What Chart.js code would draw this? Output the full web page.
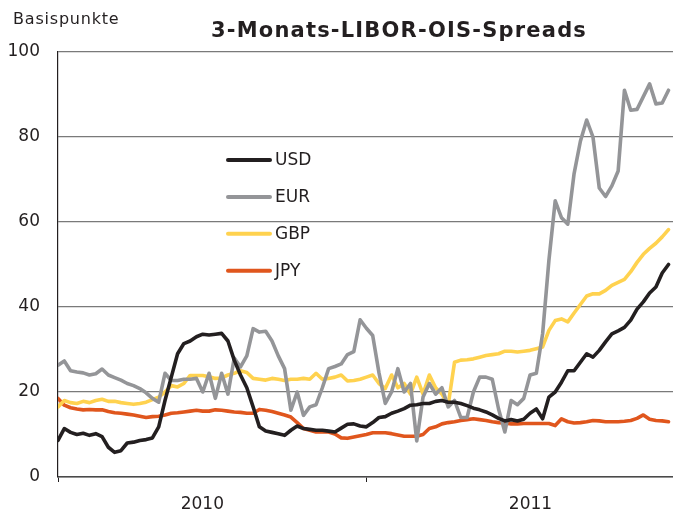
<!DOCTYPE html>
<html>
<head>
<meta charset="utf-8">
<script src="https://cdn.jsdelivr.net/npm/chart.js@4/dist/chart.umd.min.js"></script>
<style>
  html, body { margin: 0; padding: 0; background: #fff; }
  #wrap { width: 673px; height: 515px; }
</style>
</head>
<body>
<div id="wrap"><canvas id="c"></canvas></div>
<script>
// weekly samples, x = days since 1 Jan 2010
const startDay = 22;
const stepDays = 7;
const yearTicks = [22, 182.5, 365, 547.5];
const yearLabels = { 182.5: '2010', 547.5: '2011' };
const yTicks = [0, 20, 40, 60, 80, 100];

const usd = [8.6, 11.4, 10.5, 10, 10.3, 9.8, 10.2, 9.5, 7, 5.8,
  6.2, 8, 8.2, 8.6, 8.8, 9.2, 11.8, 18, 23.5, 29,
  31.4, 32, 33, 33.6, 33.4, 33.6, 33.8, 32, 27.5, 24,
  21, 16.5, 11.8, 10.8, 10.5, 10.2, 9.8, 11, 12, 11.4,
  11.2, 11, 11, 10.8, 10.6, 11.5, 12.4, 12.5, 12, 11.8,
  12.8, 14, 14.2, 15, 15.5, 16.1, 16.9, 17, 17.3, 17.3,
  17.8, 18, 17.6, 17.6, 17.3, 16.8, 16.2, 15.8, 15.3, 14.6,
  13.8, 13.2, 13.5, 13.2, 13.6, 15, 16, 13.7, 18.8, 20,
  22.3, 25, 25, 27, 29, 28.2, 29.8, 31.8, 33.7, 34.4,
  35.2, 36.9, 39.5, 41.2, 43.3, 44.7, 48, 50];
const eur = [26.3, 27.3, 25, 24.7, 24.5, 24, 24.3, 25.4, 24, 23.4,
  22.8, 22, 21.5, 20.8, 19.8, 18.5, 17.6, 24.4, 22.7, 22.7,
  23, 23, 23.2, 20, 24.4, 18.5, 24.4, 19.5, 28, 25.9,
  28.5, 34.9, 34.1, 34.3, 32, 28.5, 25.5, 15.7, 20, 14.5,
  16.5, 17, 21, 25.5, 26, 26.6, 28.8, 29.5, 37, 35,
  33.3, 24.5, 17.3, 20, 25.5, 20, 22, 8.5, 18.8, 22,
  19.5, 21, 16.5, 18, 14, 14, 20, 23.5, 23.5, 23,
  16, 10.6, 18, 17, 18.5, 24, 24.4, 33.7, 51, 65,
  61, 59.5, 71.4, 79, 84, 80, 68, 66, 68.5, 72,
  91, 86.3, 86.5, 89.5, 92.5, 87.8, 88, 91];
const gbp = [16.5, 18, 17.5, 17.3, 17.8, 17.5, 18, 18.3, 17.8, 17.8,
  17.5, 17.3, 17.1, 17.3, 17.6, 18.2, 18.8, 20, 21.5, 21.2,
  22, 23.9, 23.9, 23.9, 23.6, 23.2, 23.3, 24, 24.4, 25,
  24.6, 23.2, 23, 22.8, 23.2, 23, 22.7, 23, 23, 23.2,
  23, 24.4, 23, 23.2, 23.5, 24, 22.6, 22.7, 23, 23.5,
  24, 22, 20.8, 24, 21, 22, 19.5, 23.5, 19.5, 24,
  21, 19.5, 17, 27, 27.5, 27.6, 27.8, 28.2, 28.6, 28.8,
  29, 29.6, 29.6, 29.4, 29.6, 29.8, 30.2, 30.6, 34.5, 36.8,
  37.2, 36.5, 38.6, 40.6, 42.6, 43.1, 43.1, 43.9, 45.1, 45.8,
  46.5, 48.3, 50.5, 52.4, 53.8, 55, 56.5, 58.2];
const jpy = [18.5, 16.9, 16.3, 16, 15.8, 15.9, 15.8, 15.8, 15.4, 15.1,
  15, 14.8, 14.6, 14.3, 14, 14.2, 14.3, 14.6, 15, 15.1,
  15.3, 15.5, 15.7, 15.5, 15.5, 15.8, 15.7, 15.5, 15.3, 15.2,
  15, 15, 15.9, 15.7, 15.4, 15, 14.6, 14.1, 12.8, 11.4,
  11, 10.6, 10.6, 10.6, 10.1, 9.2, 9.1, 9.4, 9.7, 10,
  10.4, 10.4, 10.4, 10.2, 9.9, 9.6, 9.6, 9.6, 10, 11.4,
  11.8, 12.5, 12.8, 13, 13.3, 13.5, 13.7, 13.5, 13.3, 13,
  12.8, 12.7, 12.5, 12.5, 12.6, 12.6, 12.6, 12.6, 12.6, 12.1,
  13.7, 13, 12.7, 12.8, 13, 13.3, 13.2, 13, 13, 13,
  13.1, 13.3, 13.8, 14.6, 13.6, 13.3, 13.2, 13];

const days = usd.map((_, i) => startDay + i * stepDays);
const pts = arr => arr.map((v, i) => ({ x: days[i], y: v }));

const series = [
  { label: 'USD', data: usd, color: '#231f20' },
  { label: 'EUR', data: eur, color: '#949598' },
  { label: 'GBP', data: gbp, color: '#ffd24f' },
  { label: 'JPY', data: jpy, color: '#e0561d' },
];

const FONT = '"DejaVu Sans", Verdana, sans-serif';

const textPlugin = {
  id: 'texts',
  afterDraw(chart) {
    const ctx = chart.ctx;
    ctx.save();
    ctx.fillStyle = '#231f20';
    ctx.textBaseline = 'alphabetic';
    ctx.textAlign = 'left';
    ctx.font = '16px ' + FONT;
    ctx.letterSpacing = '0.8px';
    ctx.fillText('Basispunkte', 13, 24);
    ctx.textAlign = 'center';
    ctx.font = 'bold 21px ' + FONT;
    ctx.letterSpacing = '1.2px';
    ctx.fillText('3-Monats-LIBOR-OIS-Spreads', 399, 37);
    // legend inside plot
    ctx.letterSpacing = '0px';
    ctx.textAlign = 'left';
    ctx.textBaseline = 'middle';
    ctx.font = '17px ' + FONT;
    chart.data.datasets.forEach((ds, i) => {
      const y = 160 + i * 36.9;
      ctx.strokeStyle = ds.borderColor; ctx.lineWidth = 4; ctx.lineCap = 'round';
      ctx.beginPath(); ctx.moveTo(228, y); ctx.lineTo(270, y); ctx.stroke();
      ctx.fillStyle = '#231f20';
      ctx.fillText(ds.label, 275, y + 1);
    });
    ctx.restore();
  }
};

new Chart(document.getElementById('c'), {
  type: 'line',
  data: {
    datasets: series.map(s => ({
      label: s.label, data: pts(s.data), borderColor: s.color, backgroundColor: s.color,
      borderWidth: 3.6, pointRadius: 0, tension: 0, borderJoinStyle: 'round', borderCapStyle: 'round',
    })),
  },
  options: {
    responsive: true, maintainAspectRatio: false, animation: false,
    layout: { padding: { top: 52, right: 0, bottom: 0, left: 0 } },
    plugins: { legend: { display: false }, tooltip: { enabled: false } },
    scales: {
      x: {
        type: 'linear', min: 22, max: 706,
        afterFit: s => { s.height = 38; },
        afterBuildTicks: s => { s.ticks = yearTicks.map(v => ({ value: v })); },
        border: { color: '#4a4a4a', width: 1.5 },
        grid: {
          drawOnChartArea: false, drawTicks: true, tickLength: 5,
          color: c => (c.tick && (c.tick.value === 365 || c.tick.value === 22)) ? '#231f20' : 'rgba(0,0,0,0)',
        },
        ticks: { autoSkip: false, maxRotation: 0, padding: 12, color: '#231f20', font: { family: FONT, size: 17 },
          callback: v => yearLabels[v] || '' },
      },
      y: {
        min: 0, max: 100,
        afterFit: s => { s.width = 58; },
        afterBuildTicks: s => { s.ticks = yTicks.map(v => ({ value: v })); },
        border: { color: '#231f20', width: 1.2 },
        grid: { color: '#7a7a7a', lineWidth: 1.3, drawTicks: false },
        ticks: { padding: 18, color: '#231f20', font: { family: FONT, size: 17 } },
      },
    },
  },
  plugins: [textPlugin],
});
</script>
</body>
</html>
